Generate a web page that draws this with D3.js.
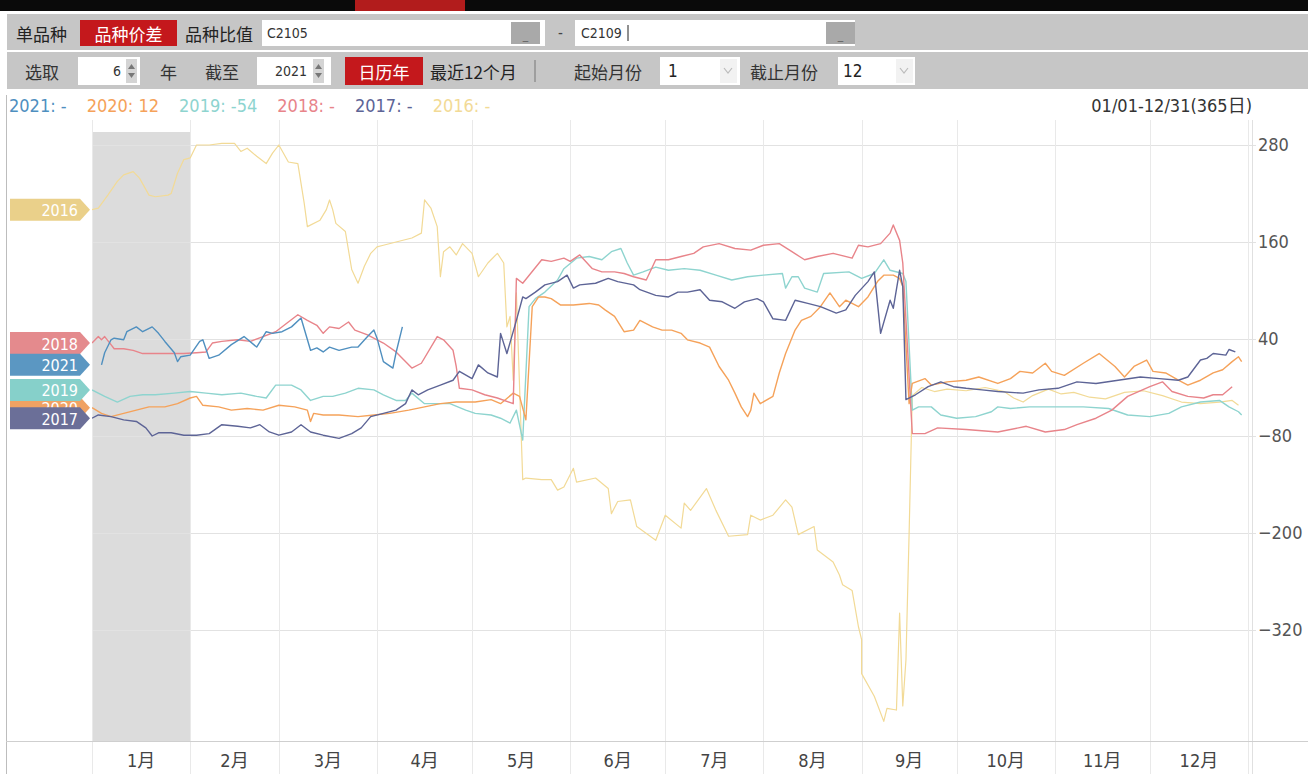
<!DOCTYPE html>
<html><head><meta charset="utf-8">
<script src="https://cdn.jsdelivr.net/npm/d3@7"></script>
<style>
html,body{margin:0;padding:0;background:#fff;overflow:hidden}
svg{display:block}
</style></head>
<body>
<svg id="c" width="1308" height="774"></svg>
<script>
// ---------------- DATA ----------------
const months = ["1月","2月","3月","4月","5月","6月","7月","8月","9月","10月","11月","12月"];
const monthStarts = [0,31,59,90,120,151,181,212,243,273,304,334,365];
const yTicks = [280,160,40,-80,-200,-320];
const years = ["2021","2020","2019","2018","2017","2016"];
const legendValues = ["-","12","-54","-","-","-"];
const colors = ["#4f8fbf","#f5a25a","#8ed4cf","#e8848a","#5d6496","#f2da96"];
const tagColors = ["#5b97c2","#f0a263","#86d0ca","#e48a8d","#6b6f98","#ead08a"];
const rangeLabel = "01/01-12/31(365日)";

// [day of year, value]
const s2021 = [[3,8],[4,23],[6,39],[7,41],[10,39],[11,49],[14,55],[16,49],[19,55],[21,47],[23,37],[26,23],[27,12],[28,18],[31,20],[34,37],[35,39],[37,16],[40,20],[44,33],[48,43],[52,30],[55,49],[57,47],[60,49],[63,55],[66,66],[69,26],[71,29],[73,24],[75,30],[78,26],[82,30],[84,30],[87,43],[89,51],[90,41],[92,12],[95,4],[96,23],[98,55]];
const s2020 = [[0,-45],[3,-52],[6,-56],[10,-52],[14,-48],[18,-44],[23,-44],[27,-40],[31,-33],[33,-31],[35,-42],[40,-44],[44,-48],[49,-46],[54,-48],[59,-42],[64,-44],[68,-48],[69,-62],[70,-52],[73,-54],[78,-54],[84,-56],[89,-54],[94,-52],[100,-48],[105,-44],[110,-40],[115,-38],[121,-38],[126,-35],[129,-40],[133,-27],[135,-31],[137,-60],[139,80],[141,92],[143,92],[145,90],[148,82],[152,82],[157,84],[160,82],[162,76],[165,68],[168,49],[171,51],[173,63],[177,55],[180,51],[183,51],[186,47],[188,39],[192,35],[195,30],[198,6],[201,-11],[203,-27],[205,-44],[207,-56],[208,-48],[209,-27],[211,-40],[215,-31],[217,-2],[219,22],[222,51],[224,63],[227,68],[230,80],[233,97],[236,80],[238,88],[242,80],[245,92],[248,111],[250,119],[253,119],[255,115],[256,105],[258,-40],[259,-15],[263,-9],[265,-17],[270,-13],[276,-11],[280,-7],[286,-15],[290,-9],[293,0],[297,-2],[301,10],[303,0],[307,-5],[313,10],[318,22],[323,6],[326,-7],[329,6],[333,14],[335,0],[339,-2],[343,-11],[346,-17],[350,-11],[354,-2],[357,2],[360,12],[362,18],[363,12]];
const s2019 = [[0,-23],[4,-31],[8,-38],[12,-31],[16,-29],[20,-29],[26,-27],[31,-25],[36,-27],[41,-29],[47,-27],[52,-31],[55,-33],[58,-17],[63,-17],[66,-23],[69,-36],[73,-31],[76,-31],[80,-27],[84,-21],[89,-23],[92,-29],[96,-36],[99,-36],[101,-27],[105,-40],[113,-40],[118,-48],[121,-52],[126,-54],[129,-58],[132,-64],[134,-48],[136,-85],[138,80],[140,90],[143,98],[147,113],[149,127],[153,140],[157,142],[161,138],[164,148],[167,152],[169,134],[171,119],[174,123],[178,129],[182,125],[187,127],[192,125],[197,119],[202,113],[207,117],[212,119],[218,121],[219,103],[221,117],[223,117],[225,103],[229,98],[231,121],[239,123],[243,115],[247,121],[250,138],[252,125],[256,121],[257,111],[259,-48],[261,-44],[265,-44],[268,-54],[273,-58],[279,-56],[284,-50],[286,-44],[290,-46],[296,-44],[304,-44],[313,-44],[321,-46],[327,-54],[334,-56],[340,-52],[344,-44],[350,-38],[356,-36],[359,-44],[362,-50],[363,-54]];
const s2018 = [[0,35],[2,43],[3,39],[4,43],[6,33],[7,28],[10,28],[13,26],[16,22],[20,22],[25,22],[29,22],[33,23],[36,24],[38,35],[41,37],[46,39],[50,37],[54,43],[58,49],[62,61],[65,70],[68,63],[71,57],[73,47],[75,55],[78,53],[81,61],[83,51],[87,45],[90,39],[92,35],[96,24],[101,4],[104,10],[109,43],[111,39],[114,26],[115,6],[116,-21],[120,-23],[124,-29],[128,-33],[133,-40],[134,115],[136,109],[142,138],[145,136],[149,140],[151,136],[154,144],[158,127],[161,123],[165,123],[168,121],[171,117],[175,113],[178,138],[182,138],[186,142],[190,146],[193,154],[198,158],[203,152],[208,150],[212,156],[217,158],[221,148],[225,138],[229,142],[234,146],[240,140],[242,156],[245,154],[249,158],[252,171],[253,181],[255,162],[256,134],[259,-77],[263,-77],[267,-70],[276,-72],[286,-75],[295,-68],[301,-75],[307,-72],[311,-66],[317,-58],[322,-48],[327,-31],[334,-19],[338,-13],[341,-25],[346,-31],[351,-33],[354,-29],[357,-29],[360,-19]];
const s2017 = [[0,-58],[2,-54],[6,-56],[10,-60],[14,-62],[17,-70],[19,-80],[21,-76],[25,-76],[29,-79],[33,-79],[37,-77],[41,-66],[46,-68],[50,-70],[53,-66],[56,-75],[59,-79],[63,-75],[66,-66],[69,-75],[73,-79],[78,-83],[82,-77],[85,-70],[88,-56],[92,-52],[96,-48],[99,-40],[101,-23],[103,-29],[106,-23],[110,-17],[114,-11],[116,0],[120,-9],[122,8],[125,-2],[128,-7],[129,47],[131,22],[134,63],[136,92],[137,90],[140,98],[143,107],[147,111],[150,119],[152,103],[154,107],[159,109],[163,115],[166,111],[171,107],[173,101],[178,94],[182,92],[185,98],[188,98],[192,101],[195,88],[199,86],[203,78],[206,86],[210,90],[212,86],[215,65],[219,63],[222,88],[226,84],[230,80],[235,72],[238,76],[241,94],[245,111],[247,123],[249,47],[252,88],[253,78],[255,125],[256,105],[257,-35],[260,-29],[264,-19],[268,-13],[272,-19],[276,-21],[281,-23],[286,-25],[294,-27],[299,-23],[305,-21],[311,-13],[317,-15],[324,-11],[331,-7],[337,-9],[343,-11],[346,-7],[350,14],[352,16],[354,22],[358,20],[359,27],[361,24]];
const s2016 = [[0,200],[2,202],[5,218],[8,235],[10,243],[13,247],[15,239],[18,218],[20,216],[24,218],[25,220],[27,245],[29,262],[31,264],[33,280],[37,280],[41,282],[45,282],[47,272],[49,276],[52,266],[55,257],[57,270],[59,280],[62,259],[65,257],[67,208],[68,179],[72,187],[74,200],[75,212],[76,200],[77,183],[80,173],[82,126],[84,109],[86,130],[88,146],[90,154],[92,156],[96,160],[101,165],[104,171],[105,212],[107,202],[109,179],[110,117],[111,148],[113,154],[115,144],[117,158],[120,146],[122,117],[125,134],[128,146],[130,134],[131,55],[132,68],[133,-11],[134,97],[136,-134],[137,-132],[142,-134],[145,-134],[147,-147],[149,-143],[152,-120],[153,-137],[159,-132],[163,-145],[164,-176],[166,-161],[170,-159],[172,-192],[178,-209],[181,-178],[186,-194],[187,-163],[189,-172],[194,-145],[197,-172],[201,-204],[207,-202],[208,-178],[211,-184],[215,-178],[219,-159],[221,-168],[223,-202],[228,-192],[229,-221],[234,-236],[236,-252],[237,-264],[240,-271],[242,-316],[243,-332],[243,-374],[247,-402],[250,-433],[251,-417],[254,-419],[255,-299],[256,-414],[257,-357],[258,-200],[259,-30],[262,-20],[266,-25],[270,-22],[276,-24],[282,-20],[288,-25],[291,-33],[294,-38],[297,-30],[302,-22],[306,-28],[310,-26],[315,-32],[320,-34],[326,-26],[332,-24],[338,-30],[344,-38],[350,-40],[356,-38],[360,-36],[362,-42]];
const seriesData = [s2021, s2020, s2019, s2018, s2017, s2016];

// ---------------- DRAW ----------------
const FONT = "'Liberation Sans Narrow','DejaVu Sans Condensed','Noto Sans CJK SC',sans-serif";
const CJK = "'Noto Sans CJK SC',sans-serif";
const svg = d3.select("#c");
const W = 1308, H = 774;
const plot = {left:92, right:1248, top:120, bottom:741};
const x = d3.scaleLinear().domain([0,365]).range([plot.left, plot.right]);
const y = d3.scaleLinear().domain([280,-320]).range([145,630]);

// top black bar
svg.append("rect").attr("x",0).attr("y",0).attr("width",W).attr("height",11).attr("fill","#0a0a0a");
svg.append("rect").attr("x",355).attr("y",0).attr("width",110).attr("height",11).attr("fill","#b21c1c");
svg.append("rect").attr("x",0).attr("y",11).attr("width",W).attr("height",3).attr("fill","#fff");

// toolbar rows
svg.append("rect").attr("x",7).attr("y",14).attr("width",W-7).attr("height",36).attr("fill","#c6c6c6");
svg.append("rect").attr("x",7).attr("y",52).attr("width",W-7).attr("height",37).attr("fill","#c6c6c6");

function txt(t, xx, yy, opt={}){
  return svg.append("text").attr("x",xx).attr("y",yy).text(t)
    .attr("font-family",opt.font||FONT).attr("font-size",opt.size||17)
    .attr("fill",opt.fill||"#222").attr("text-anchor",opt.anchor||"start")
    .attr("dominant-baseline","central");
}
function box(x0,y0,w,h,fill){ return svg.append("rect").attr("x",x0).attr("y",y0).attr("width",w).attr("height",h).attr("fill",fill); }

// row 1
txt("单品种",16,33,{font:CJK,size:17});
box(80,20,97,26,"#c4181c");
txt("品种价差",128.5,33,{font:CJK,size:17,fill:"#fff",anchor:"middle"});
txt("品种比值",185,33,{font:CJK,size:17});
box(262,20,283,26,"#fff");
txt("C2105",267,33,{size:14,fill:"#333"});
box(511,22,29,22,"#a9a9a9");
txt("_",525.5,35,{size:12,anchor:"middle",fill:"#666"});
txt("-",558,33,{size:15,fill:"#444"});
box(575,20,280,26,"#fff");
txt("C2109",581,33,{size:14,fill:"#333"});
svg.append("line").attr("x1",628).attr("x2",628).attr("y1",25).attr("y2",41).attr("stroke","#222");
box(826,22,29,22,"#a9a9a9");
txt("_",840.5,35,{size:12,anchor:"middle",fill:"#666"});

// row 2
function spinner(x0){
  box(x0,59,11,24,"#d4d4d4");
  svg.append("path").attr("d",`M${x0+2},${69}L${x0+9},${69}L${x0+5.5},${64}Z`).attr("fill","#777");
  svg.append("path").attr("d",`M${x0+2},${73}L${x0+9},${73}L${x0+5.5},${78}Z`).attr("fill","#777");
}
function dropdown(x0){
  svg.append("path").attr("d",`M${x0},${68}L${x0+4},${73}L${x0+8},${68}`).attr("fill","none").attr("stroke","#bbb").attr("stroke-width",1.2);
}
txt("选取",25,71,{font:CJK,size:17,fill:"#333"});
box(78,57,62,28,"#fff");
txt("6",121,71,{size:14,anchor:"end",fill:"#333"});
spinner(126);
txt("年",160,71,{font:CJK,size:17,fill:"#333"});
txt("截至",205,71,{font:CJK,size:17,fill:"#333"});
box(257,57,74,28,"#fff");
txt("2021",307,71,{size:14,anchor:"end",fill:"#333"});
spinner(313);
box(345,57,78,28,"#c4181c");
txt("日历年",384,71,{font:CJK,size:17,fill:"#fff",anchor:"middle"});
txt("最近12个月",430,71,{font:CJK,size:17,fill:"#222"});
svg.append("line").attr("x1",535).attr("x2",535).attr("y1",60).attr("y2",82).attr("stroke","#777");
txt("起始月份",574,71,{font:CJK,size:17,fill:"#333"});
box(660,57,80,28,"#fff");
txt("1",668,71,{size:17,fill:"#222"});
box(720,59,17,24,"#f2f2f2");
dropdown(724);
txt("截止月份",750,71,{font:CJK,size:17,fill:"#333"});
box(838,57,77,28,"#fff");
txt("12",843,71,{size:17,fill:"#222"});
box(896,59,17,24,"#f2f2f2");
dropdown(900);

// legend row
let lx = 9;
years.forEach((yr,i)=>{
  const t = txt(`${yr}: ${legendValues[i]}`, lx, 105, {size:18, fill:colors[i]});
  lx += t.node().getComputedTextLength() + 20;
});
txt(rangeLabel,1252,105,{size:18,fill:"#333",anchor:"end"});

// plot frame
svg.append("line").attr("x1",6.5).attr("x2",6.5).attr("y1",95).attr("y2",H).attr("stroke","#bdbdbd");

// shaded current month
svg.append("rect").attr("x",x(0)).attr("y",132).attr("width",x(31)-x(0)).attr("height",plot.bottom-132).attr("fill","#dcdcdc");

// horizontal grid
svg.append("g").selectAll("line").data(yTicks).join("line")
  .attr("x1",plot.left).attr("x2",1256).attr("y1",d=>Math.round(y(d))+0.5).attr("y2",d=>Math.round(y(d))+0.5)
  .attr("stroke","#e2e2e2");
// vertical grid
svg.append("g").selectAll("line").data(monthStarts).join("line")
  .attr("x1",d=>Math.round(x(d))+0.5).attr("x2",d=>Math.round(x(d))+0.5).attr("y1",plot.top).attr("y2",H)
  .attr("stroke","#e9e9e9");

// right axis
const yAxis = d3.axisRight(y).tickValues(yTicks).tickSize(0).tickPadding(6);
const gy = svg.append("g").attr("transform",`translate(1252,0)`).call(yAxis);
gy.select(".domain").remove();
svg.append("line").attr("x1",1252.5).attr("x2",1252.5).attr("y1",plot.top).attr("y2",H).attr("stroke","#e0e0e0");
gy.selectAll("text").attr("font-family",FONT).attr("font-size",18).attr("fill","#555");

// x axis row
svg.append("line").attr("x1",6).attr("x2",W).attr("y1",741.5).attr("y2",741.5).attr("stroke","#cfcfcf");
svg.append("g").selectAll("text").data(months).join("text")
  .attr("x",(d,i)=>(x(monthStarts[i])+x(monthStarts[i+1]))/2).attr("y",760)
  .attr("text-anchor","middle").attr("dominant-baseline","central")
  .attr("font-family",FONT).attr("font-size",18).attr("fill","#444").text(d=>d);

// lines
svg.append("defs").append("clipPath").attr("id","clip").append("rect")
  .attr("x",plot.left).attr("y",plot.top).attr("width",plot.right-plot.left+2).attr("height",plot.bottom-plot.top);
const line = d3.line().x(d=>x(d[0])).y(d=>y(d[1]));
const order = [5,2,1,3,4,0];
const gl = svg.append("g").attr("clip-path","url(#clip)");
order.forEach(i=>{
  gl.append("path").attr("d",line(seriesData[i])).attr("fill","none")
    .attr("stroke",colors[i]).attr("stroke-width", i===5?1.2:1.4).attr("stroke-linejoin","round");
});

// year tags at first value (2020 tag sits underneath its neighbours, as in the reference)
const tagOrder = [5,1,3,0,2,4];
tagOrder.forEach(i=>{
  const cy = y(seriesData[i][0][1]);
  const g = svg.append("g");
  g.append("path").attr("d",`M10,${cy-11}L80,${cy-11}L90,${cy}L80,${cy+11}L10,${cy+11}Z`).attr("fill",tagColors[i]);
  g.append("text").attr("x",78).attr("y",cy+1).attr("text-anchor","end").attr("dominant-baseline","central")
    .attr("font-family",FONT).attr("font-size",16).attr("fill","#fff").text(years[i]);
});
</script>
</body></html>
